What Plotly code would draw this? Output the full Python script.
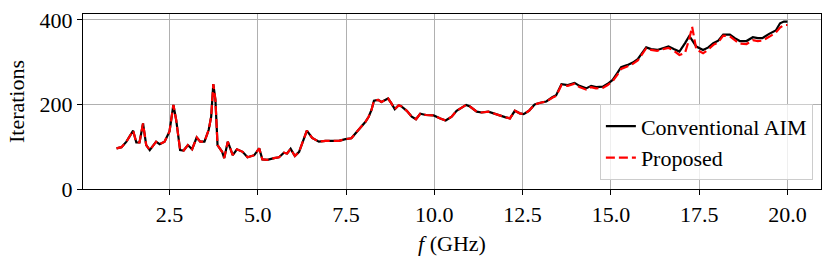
import plotly.graph_objects as go

freq = [1.0, 1.14, 1.28, 1.47, 1.56, 1.65, 1.75, 1.84, 1.94, 2.12, 2.22, 2.36, 2.5, 2.61, 2.69,
        2.80, 2.90, 3.02, 3.14, 3.27, 3.37, 3.49, 3.61, 3.68, 3.74, 3.80, 3.86, 3.99, 4.05, 4.15,
        4.29, 4.41, 4.57, 4.71, 4.90, 5.04, 5.13, 5.27, 5.46, 5.6, 5.74, 5.83, 5.93, 6.05, 6.17,
        6.26, 6.39, 6.54, 6.73, 6.92, 7.16, 7.3, 7.48, 7.65, 7.77, 7.91, 8.05, 8.14, 8.22, 8.29,
        8.41, 8.5, 8.69, 8.78, 8.88, 8.99, 9.06, 9.22, 9.36, 9.48, 9.6, 9.76, 9.98, 10.17, 10.32,
        10.49, 10.63, 10.90, 11.01, 11.2, 11.34, 11.53, 11.67, 11.86, 12.0, 12.14, 12.28, 12.42,
        12.53, 12.68, 12.84, 13.0, 13.17, 13.34, 13.45, 13.6, 13.78, 13.97, 14.11, 14.3, 14.44,
        14.58, 14.77, 14.91, 15.05, 15.18, 15.29, 15.46, 15.62, 15.76, 15.88, 16.0, 16.14, 16.31,
        16.47, 16.63, 16.78, 16.94, 17.1, 17.22, 17.3, 17.42, 17.61, 17.76, 17.9, 18.04, 18.18,
        18.37, 18.51, 18.65, 18.84, 19.02, 19.16, 19.29, 19.48, 19.67, 19.79, 19.9, 20.0]

conventional = [96, 99, 112, 138, 110, 110, 155, 104, 92, 112, 106, 112, 136, 199, 163,
                92, 91, 104, 94, 122, 112, 112, 140, 171, 248, 211, 104, 88, 73, 112,
                80, 94, 88, 75, 80, 96, 70, 69, 73, 75, 86, 84, 95, 78, 88,
                108, 138, 121, 112, 114, 114, 114, 118, 120, 132, 146, 159, 171, 187, 209,
                211, 206, 214, 203, 189, 198, 196, 185, 171, 165, 178, 175, 174, 167, 162,
                171, 185, 199, 195, 183, 181, 183, 179, 173, 170, 167, 185, 179,
                177, 185, 200, 204, 207, 217, 222, 248, 246, 251, 244, 238, 244,
                241, 242, 249, 258, 274, 288, 293, 299, 307, 321, 335, 331, 329,
                333, 337, 331, 325, 345, 362, 352, 337, 329, 335, 345, 351, 365,
                365, 357, 350, 350, 359, 357, 357, 367, 375, 392, 396, 396]

proposed = [96, 99, 112, 138, 110, 110, 155, 104, 92, 112, 106, 112, 136, 199, 163,
            92, 91, 104, 94, 122, 112, 112, 140, 171, 248, 211, 104, 88, 73, 112,
            80, 94, 88, 75, 80, 96, 70, 69, 73, 75, 86, 84, 95, 78, 88,
            108, 138, 121, 112, 114, 114, 114, 118, 120, 132, 146, 159, 171, 187, 209,
            211, 206, 214, 203, 189, 198, 196, 185, 171, 165, 178, 175, 174, 167, 162,
            171, 185, 199, 195, 183, 181, 183, 179, 173, 170, 167, 185, 179,
            177, 185, 200, 204, 207, 216, 220, 246, 244, 249, 241, 235, 241,
            238, 239, 246, 255, 270, 284, 290, 296, 304, 318, 333, 329, 327,
            331, 334, 327, 317, 322, 355, 384, 330, 321, 330, 341, 347, 363,
            361, 352, 344, 343, 352, 350, 351, 360, 370, 382, 388, 388]

xtick_vals = [2.5, 5.0, 7.5, 10.0, 12.5, 15.0, 17.5, 20.0]
xtick_text = ["2.5", "5.0", "7.5", "10.0", "12.5", "15.0", "17.5", "20.0"]
ytick_vals = [0, 200, 400]

serif = "Liberation Serif, DejaVu Serif, serif"

fig = go.Figure()
fig.add_trace(go.Scatter(x=freq, y=conventional, mode="lines", name="Conventional AIM",
                         line=dict(color="black", width=2.2)))
fig.add_trace(go.Scatter(x=freq, y=proposed, mode="lines", name="Proposed",
                         line=dict(color="red", width=2.2, dash="9px,4px")))

fig.update_layout(
    width=830, height=262,
    margin=dict(l=83, r=9, t=14, b=73),
    paper_bgcolor="white", plot_bgcolor="white",
    font=dict(family=serif, size=22, color="black"),
    showlegend=True,
    legend=dict(x=0.989, y=0.05, xanchor="right", yanchor="bottom",
                bgcolor="rgba(255,255,255,0.8)", bordercolor="#cccccc", borderwidth=1,
                font=dict(family=serif, size=22, color="black"),
                entrywidth=200, entrywidthmode="pixels",
                tracegroupgap=0),
)
fig.update_xaxes(range=[0.05, 20.95], tickvals=xtick_vals, ticktext=xtick_text,
                 showgrid=True, gridcolor="#b0b0b0", gridwidth=0.8,
                 showline=True, linecolor="black", linewidth=1.2, mirror=True,
                 ticks="outside", ticklen=5, tickcolor="black", zeroline=False,
                 automargin=False,
                 tickfont=dict(family=serif, size=22),
                 title=dict(text="<i>f</i> (GHz)", standoff=10,
                            font=dict(family=serif, size=22)))
fig.update_yaxes(range=[0, 414], tickvals=ytick_vals,
                 showgrid=True, gridcolor="#b0b0b0", gridwidth=0.8,
                 showline=True, linecolor="black", linewidth=1.2, mirror=True,
                 ticks="outside", ticklen=5, tickcolor="black", zeroline=False,
                 automargin=False,
                 tickfont=dict(family=serif, size=22),
                 title=dict(text="Iterations", standoff=8,
                            font=dict(family=serif, size=22)))

fig.write_html("out.html", config={"displayModeBar": False},
               post_script="document.body.style.margin='0';document.body.style.padding='0';")
